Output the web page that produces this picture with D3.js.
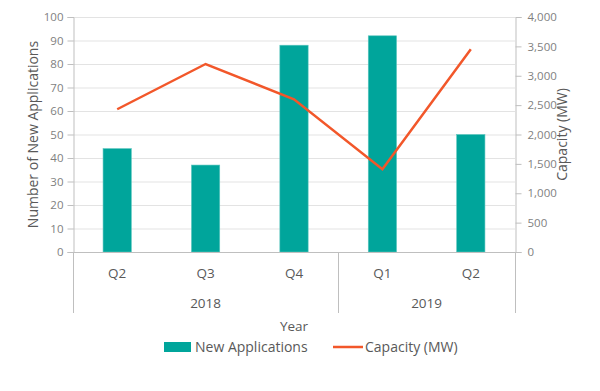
<!DOCTYPE html>
<html>
<head>
<meta charset="utf-8">
<script src="https://cdn.jsdelivr.net/npm/d3@7"></script>
<style>
  body { margin: 0; background: #fff; }
  svg text { font-family: "Open Sans", sans-serif; fill: #595959; }
</style>
</head>
<body>
<svg id="chart" width="600" height="391"></svg>
<script>
// data
const quarters = ["Q2", "Q3", "Q4", "Q1", "Q2"];
const years = ["2018", "2018", "2018", "2019", "2019"];
const newApplications = [44, 37, 88, 92, 50];
const capacityMW = [2430, 3200, 2600, 1410, 3450];
const leftTicks = [0, 10, 20, 30, 40, 50, 60, 70, 80, 90, 100];
const rightTicks = [0, 500, 1000, 1500, 2000, 2500, 3000, 3500, 4000];

const margin = {top: 17, left: 73, right: 85, bottom: 139};
const width = 600, height = 391;
const svg = d3.select("#chart");
const plotW = width - margin.left - margin.right;
const plotH = height - margin.top - margin.bottom;

const barColor = "#00a59b";
const lineColor = "#f2572a";
const gridColor = "#e3e3e3";
const axisColor = "#bfbfbf";

const idx = quarters.map((d, i) => i);
const x = d3.scaleBand().domain(idx).range([margin.left, margin.left + plotW])
    .paddingInner(0.68).paddingOuter(0.34);
const step = x.step();
const yL = d3.scaleLinear().domain([0, 100]).range([margin.top + plotH, margin.top]);
const yR = d3.scaleLinear().domain([0, 4000]).range([margin.top + plotH, margin.top]);
const baseY = yL(0);

// grid
svg.append("g").selectAll("line")
    .data(leftTicks.filter(d => d > 0))
    .enter().append("line")
    .attr("x1", margin.left).attr("x2", margin.left + plotW)
    .attr("y1", d => yL(d) + 0.5).attr("y2", d => yL(d) + 0.5)
    .attr("stroke", gridColor).attr("stroke-width", 1);

// left axis
const gL = svg.append("g").attr("transform", `translate(${margin.left + 0.5},0)`)
    .call(d3.axisLeft(yL).tickValues(leftTicks).tickSize(6).tickPadding(4));
// right axis
const gR = svg.append("g").attr("transform", `translate(${margin.left + plotW + 0.5},0)`)
    .call(d3.axisRight(yR).tickValues(rightTicks).tickSize(6).tickPadding(6)
        .tickFormat(d3.format(",")));
[gL, gR].forEach(g => {
    g.select(".domain").attr("stroke", axisColor);
    g.selectAll(".tick line").attr("stroke", axisColor);
    g.selectAll(".tick text").attr("fill", "#7f7f7f")
        .style("fill", "#7f7f7f")
        .style("font-family", "'Open Sans', sans-serif").style("font-size", "11.5px");
});

// bars
svg.append("g").selectAll("rect")
    .data(newApplications)
    .enter().append("rect")
    .attr("x", (d, i) => x(i))
    .attr("width", x.bandwidth())
    .attr("y", d => yL(d))
    .attr("height", d => baseY - yL(d))
    .attr("fill", barColor)
    .attr("stroke", "#5cc6bf").attr("stroke-width", 0.6);

// line
const line = d3.line()
    .x((d, i) => x(i) + x.bandwidth() / 2)
    .y(d => yR(d));
svg.append("path")
    .datum(capacityMW)
    .attr("d", line)
    .attr("fill", "none")
    .attr("stroke", lineColor)
    .attr("stroke-width", 2.5)
    .attr("stroke-linejoin", "miter");

// bottom baseline
svg.append("line")
    .attr("x1", margin.left).attr("x2", margin.left + plotW)
    .attr("y1", baseY + 0.5).attr("y2", baseY + 0.5)
    .attr("stroke", axisColor);

// quarter labels
svg.append("g").selectAll("text")
    .data(quarters)
    .enter().append("text")
    .attr("x", (d, i) => x(i) + x.bandwidth() / 2)
    .attr("y", baseY + 26)
    .attr("text-anchor", "middle")
    .style("font-size", "13.5px")
    .text(d => d);

// year groups
const groups = [];
years.forEach((y, i) => {
    const last = groups[groups.length - 1];
    if (last && last.year === y) last.end = i;
    else groups.push({year: y, start: i, end: i});
});
const sepBottom = baseY + 61;
const bounds = [groups[0].start].concat(groups.map(g => g.end + 1));
svg.append("g").selectAll("line")
    .data(bounds)
    .enter().append("line")
    .attr("x1", d => Math.round(margin.left + d * step) + 0.5)
    .attr("x2", d => Math.round(margin.left + d * step) + 0.5)
    .attr("y1", baseY).attr("y2", sepBottom)
    .attr("stroke", axisColor);
svg.append("g").selectAll("text")
    .data(groups)
    .enter().append("text")
    .attr("x", g => margin.left + (g.start + g.end + 1) / 2 * step)
    .attr("y", baseY + 56)
    .attr("text-anchor", "middle")
    .style("font-size", "13.5px")
    .text(g => g.year);

// axis titles
svg.append("text")
    .attr("x", margin.left + plotW / 2).attr("y", baseY + 79)
    .attr("text-anchor", "middle").style("font-size", "13.5px")
    .text("Year");
svg.append("text")
    .attr("transform", `translate(38,${margin.top + plotH / 2}) rotate(-90)`)
    .attr("text-anchor", "middle").style("font-size", "14px")
    .text("Number of New Applications");
svg.append("text")
    .attr("transform", `translate(567,${margin.top + plotH / 2}) rotate(-90)`)
    .attr("text-anchor", "middle").style("font-size", "14px")
    .text("Capacity (MW)");

// legend
const legY = 347;
const leg = svg.append("g");
leg.append("rect").attr("x", 164).attr("y", legY - 5).attr("width", 27).attr("height", 10)
    .attr("fill", barColor);
leg.append("text").attr("x", 195).attr("y", legY + 5).style("font-size", "14px")
    .text("New Applications");
leg.append("line").attr("x1", 333).attr("x2", 363).attr("y1", legY).attr("y2", legY)
    .attr("stroke", lineColor).attr("stroke-width", 2.5);
leg.append("text").attr("x", 365).attr("y", legY + 5).style("font-size", "14px")
    .text("Capacity (MW)");
</script>
</body>
</html>
